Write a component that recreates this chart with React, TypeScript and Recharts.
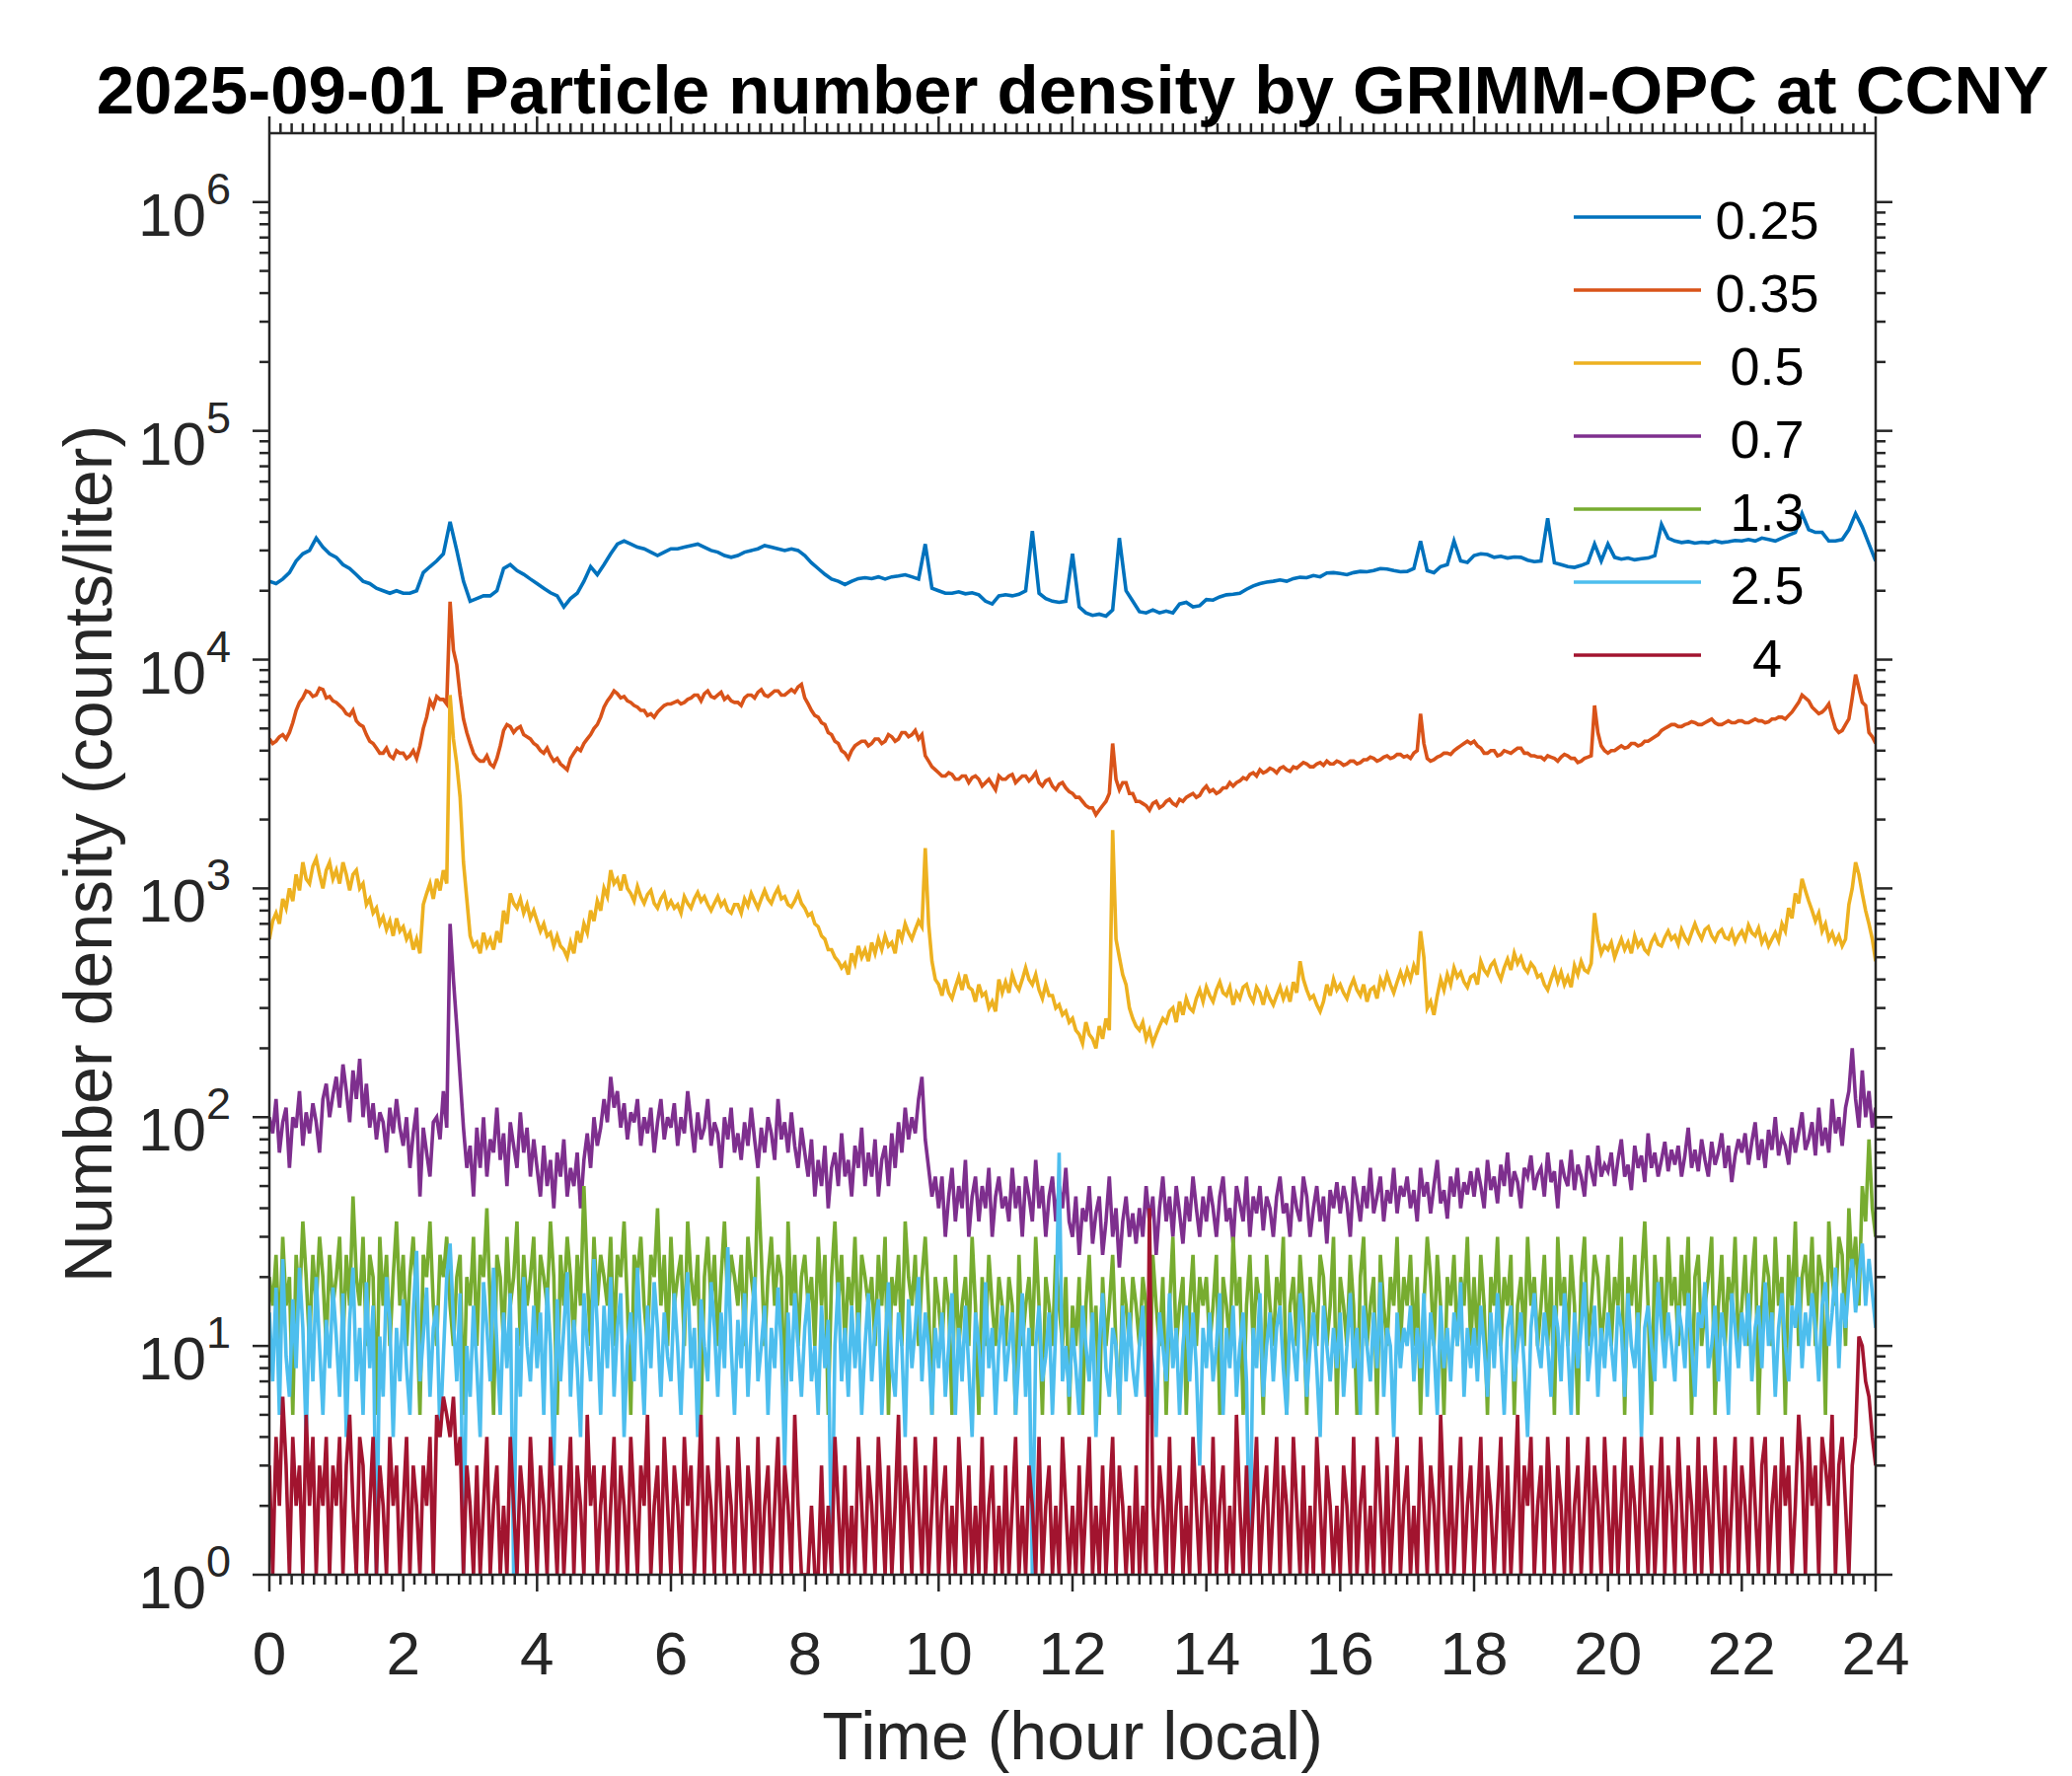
import React from "react";
import { LineChart, Line, XAxis, YAxis, Legend } from "recharts";

const FONT = '"Liberation Sans", Arial, Helvetica, sans-serif';
const INK = "#262626";

const CHART_W = 2100;
const CHART_H = 1800;
// plot box in page pixels
const PLOT = { left: 273, right: 1901, top: 135, bottom: 1596 };

const SIZE_LABELS = ["0.25", "0.35", "0.5", "0.7", "1.3", "2.5", "4"];
const SIZE_COLORS = ["#0072BD", "#D95319", "#EDB120", "#7E2F8E", "#77AC30", "#4DBEEE", "#A2142F"];

const HOUR_LABELS = [0, 2, 4, 6, 8, 10, 12, 14, 16, 18, 20, 22, 24];
const DECADES = [0, 1, 2, 3, 4, 5, 6];
const Y_MAX = 2000000;

// counts/liter, 6 min samples (0..24 h)
const N_025 = [
  22000, 21500, 22500, 24000, 27000, 29000, 30000, 34000, 31000, 29000,
  28000, 26000, 25000, 23500, 22000, 21500, 20500, 20000, 19500, 20000,
  19500, 19500, 20000, 24000, 25500, 27000, 29000, 40000, 30000, 22000,
  18000, 18500, 19000, 19000, 20000, 25000, 26000, 24500, 23600, 22500,
  21500, 20500, 19600, 19000, 17000, 18500, 19500, 22000, 25500, 23500,
  26000, 29000, 32000, 33000, 32000, 31000, 30500, 29500, 28500, 29500,
  30500, 30500, 31000, 31500, 32000, 31000, 30000, 29500, 28500, 28000,
  28500, 29500, 30000, 30500, 31500, 31000, 30500, 30000, 30500, 30000,
  28500, 26500, 25000, 23600, 22500, 22000, 21300, 22000, 22600, 22800,
  22600, 23000, 22500, 23000, 23200, 23500, 23000, 22500, 32000, 20500,
  20000, 19500, 19500, 19800, 19400, 19600, 19200, 18000, 17500, 19000,
  19200, 19000, 19300, 20000, 36500, 19500, 18500, 18000, 17800, 18000,
  29000, 17000, 16000, 15600, 15800, 15500, 16500, 34000, 20000, 18000,
  16200, 16000, 16500, 16000, 16300, 16000, 17500, 17800, 17000, 17200,
  18300, 18200, 18800, 19200, 19300, 19500, 20300, 21000, 21500, 21800,
  22000, 22300, 22000, 22600, 22900, 22800, 23300, 23000, 23900, 24000,
  23800, 23500, 24000, 24300, 24200, 24500, 25000, 24900, 24500, 24200,
  24300, 25000, 33000, 24500, 24000, 25500, 26000, 33000, 27000, 26600,
  28500, 29000, 28800, 28000, 28300, 27800, 28100, 28000, 27200, 26800,
  27000, 41500, 26500, 26000, 25500, 25300, 25800, 26500, 32000, 27000,
  32000, 28000, 27500, 27800, 27300, 27600, 27800, 28500, 39000, 34000,
  33000, 32500, 32800, 32300, 32600, 32400, 33000, 32500, 32800, 33200,
  33000, 33500, 33000, 34000, 33500, 33000, 34000, 35000, 36000, 43500,
  37000, 36000, 36000, 33000, 33000, 33500, 37000, 43500, 38000, 32000,
  27000,
];

// counts/liter, 3 min samples (0..24 h)
const N_035 = [
  4500, 4300, 4400, 4600, 4700, 4500, 4800, 5300, 6000, 6500, 6800, 7300, 7200, 6900, 7000, 7500, 7400, 6800, 6900, 6600,
  6500, 6300, 6100, 5800, 5700, 6000, 5400, 5200, 5100, 4700, 4400, 4300, 4100, 3900, 3900, 4100, 3800, 3700, 4000, 3900,
  3900, 3700, 3800, 4000, 3700, 4200, 5000, 5600, 6600, 6200, 6900, 6700, 6700, 6400, 17900, 11000, 9500, 7000, 5500, 4800,
  4300, 3900, 3700, 3600, 3600, 3800, 3500, 3400, 3700, 4200, 4900, 5200, 5100, 4800, 5000, 5100, 4700, 4600, 4500, 4300,
  4200, 4000, 3900, 4100, 3800, 3600, 3700, 3500, 3400, 3300, 3700, 3900, 4100, 4000, 4300, 4500, 4700, 5000, 5200, 5600,
  6200, 6600, 6900, 7300, 7100, 6800, 6900, 6600, 6500, 6300, 6200, 6000, 6000, 5700, 5800, 5600, 5900, 6100, 6300, 6400,
  6400, 6500, 6600, 6400, 6500, 6700, 6800, 7000, 7000, 6600, 7100, 7300, 6900, 6800, 7000, 7200, 6700, 6900, 6600, 6500,
  6500, 6300, 6800, 7000, 7000, 6800, 7200, 7400, 7000, 6900, 7100, 7300, 7300, 7000, 7000, 7200, 7400, 7200, 7600, 7800,
  6800, 6400, 6000, 5700, 5600, 5300, 5200, 4800, 4700, 4400, 4300, 4000, 3900, 3700, 4000, 4200, 4300, 4400, 4400, 4200,
  4300, 4500, 4500, 4300, 4400, 4700, 4600, 4400, 4500, 4800, 4800, 4600, 4700, 4900, 4500, 4700, 3800, 3600, 3400, 3300,
  3200, 3100, 3100, 3200, 3150, 3000, 3000, 3100, 3100, 2900, 3050, 3100, 3000, 2800, 2900, 3000, 2850, 2700, 3100, 3000,
  3000, 3100, 3150, 2900, 3000, 3100, 3100, 2950, 3050, 3200, 2900, 2800, 2950, 3000, 2800, 2700, 2850, 2900, 2750, 2650,
  2600, 2500, 2500, 2400, 2300, 2250, 2250, 2100, 2200, 2300, 2400, 2600, 4300, 3000, 2700, 2900, 2900, 2600, 2600, 2400,
  2400, 2350, 2300, 2200, 2350, 2400, 2250, 2300, 2400, 2450, 2350, 2300, 2450, 2400, 2500, 2550, 2600, 2500, 2550, 2700,
  2800, 2650, 2700, 2600, 2650, 2750, 2750, 2900, 2800, 2900, 2950, 3050, 3000, 3150, 3200, 3100, 3300, 3200, 3250, 3350,
  3300, 3200, 3350, 3400, 3300, 3250, 3400, 3350, 3450, 3550, 3500, 3400, 3400, 3500, 3550, 3450, 3600, 3500, 3500, 3600,
  3550, 3450, 3500, 3600, 3600, 3500, 3550, 3650, 3650, 3750, 3700, 3600, 3650, 3750, 3800, 3700, 3750, 3850, 3850, 3750,
  3800, 3700, 3900, 4000, 5800, 4300, 3700, 3600, 3650, 3750, 3800, 3900, 3900, 3850, 4000, 4100, 4200, 4300, 4400, 4300,
  4400, 4200, 4100, 3900, 3900, 4000, 4000, 3800, 3850, 4000, 3950, 3900, 4000, 4100, 4100, 3900, 3900, 3800, 3800, 3750,
  3750, 3650, 3800, 3750, 3700, 3600, 3750, 3850, 3800, 3700, 3700, 3550, 3600, 3700, 3750, 3800, 6300, 4800, 4200, 4000,
  3900, 4000, 4000, 4100, 4200, 4100, 4150, 4300, 4300, 4200, 4250, 4400, 4400, 4500, 4600, 4700, 4900, 5000, 5100, 5200,
  5200, 5100, 5100, 5200, 5250, 5350, 5300, 5200, 5200, 5300, 5400, 5500, 5300, 5200, 5200, 5300, 5400, 5300, 5300, 5400,
  5400, 5300, 5300, 5400, 5500, 5400, 5400, 5300, 5350, 5500, 5500, 5600, 5600, 5500, 5700, 5900, 6200, 6500, 7000, 6800,
  6600, 6200, 6000, 5800, 5900, 6100, 6400, 5600, 5000, 4800, 4900, 5200, 5500, 6800, 8600, 7500, 6500, 6300, 4800, 4600,
  4300,
];

const N_05 = [
  600, 720, 780, 700, 900, 820, 1000, 880, 1150, 980, 1300, 1100, 1050, 1250, 1350, 1150, 1000, 1200, 1300, 1100,
  1200, 1050, 1300, 1150, 980, 1150, 1200, 1000, 1050, 850, 900, 780, 820, 700, 750, 660, 720, 620, 740, 650,
  680, 600, 640, 540, 600, 520, 850, 950, 1050, 900, 1100, 980, 1200, 1050, 7000, 4500, 3500, 2500, 1300, 900,
  620, 560, 580, 520, 640, 560, 600, 540, 650, 580, 800, 700, 950, 860, 820, 900, 780, 850, 740, 800,
  720, 650, 700, 620, 640, 560, 620, 560, 540, 500, 580, 520, 650, 580, 700, 640, 800, 720, 880, 800,
  1000, 920, 1200, 1050, 1100, 980, 1150, 1000, 950, 880, 1020, 920, 860, 940, 980, 860, 820, 900, 950, 830,
  880, 820, 850, 780, 920, 860, 820, 900, 960, 880, 920, 850, 800, 860, 920, 840, 880, 800, 780, 850,
  850, 780, 900, 840, 950, 880, 820, 900, 980, 900, 860, 940, 1000, 900, 920, 850, 830, 880, 950, 860,
  820, 760, 780, 700, 680, 620, 600, 540, 540, 500, 480, 450, 470, 420, 520, 470, 560, 500, 540, 480,
  580, 520, 600, 540, 620, 560, 580, 520, 660, 600, 700, 640, 600, 660, 720, 680, 1500, 700, 480, 400,
  380, 340, 400, 350, 330, 370, 410, 360, 420, 370, 360, 320, 380, 340, 350, 300, 320, 290, 400, 350,
  390, 350, 420, 380, 360, 400, 450, 400, 380, 420, 360, 330, 380, 340, 340, 300, 310, 280, 290, 260,
  270, 240, 230, 210, 260, 230, 220, 200, 250, 220, 270, 240, 1800, 600, 500, 420, 380, 300, 270, 250,
  240, 260, 220, 240, 210, 230, 250, 270, 260, 290, 300, 260, 320, 280, 330, 300, 290, 330, 360, 320,
  370, 340, 320, 360, 390, 350, 340, 370, 310, 350, 330, 370, 380, 340, 320, 370, 350, 310, 360, 330,
  310, 340, 370, 330, 360, 320, 390, 350, 480, 400, 360, 330, 340, 310, 290, 320, 380, 340, 400, 360,
  380, 350, 330, 370, 400, 360, 340, 380, 320, 360, 370, 330, 400, 370, 420, 380, 350, 390, 430, 390,
  440, 400, 460, 420, 650, 500, 300, 320, 280, 340, 400, 360, 420, 380, 450, 410, 430, 390, 370, 410,
  420, 380, 480, 440, 420, 460, 480, 430, 400, 450, 490, 440, 520, 470, 500, 450, 430, 470, 450, 410,
  420, 380, 360, 400, 440, 390, 430, 380, 410, 370, 460, 420, 480, 440, 430, 470, 780, 600, 520, 560,
  540, 580, 500, 550, 600, 540, 580, 520, 620, 560, 590, 540, 520, 580, 620, 570, 560, 610, 650, 600,
  620, 570, 660, 610, 580, 640, 700, 640, 600, 660, 680, 620, 590, 640, 660, 610, 600, 650, 580, 620,
  650, 600, 690, 640, 620, 670, 580, 620, 560, 600, 640, 590, 700, 650, 820, 740, 950, 860, 1100, 980,
  880, 800, 720, 780, 650, 700, 600, 640, 580, 620, 560, 600, 850, 1000, 1300, 1150, 950, 800, 700, 600,
  480,
];

const N_07 = [
  100, 85, 120, 70, 95, 110, 60, 100, 90, 130, 75, 105, 85, 115, 95, 70, 120, 140, 100, 125,
  150, 110, 170, 130, 95, 160, 120, 180, 100, 140, 90, 115, 80, 105, 95, 70, 110, 85, 120, 90,
  75, 100, 60, 85, 110, 45, 90, 70, 55, 95, 100, 80, 130, 90, 700, 400, 250, 150, 90, 60,
  75, 45, 90, 60, 100, 55, 80, 70, 110, 65, 85, 50, 95, 75, 60, 105, 70, 90, 55, 80,
  60, 45, 75, 50, 65, 40, 70, 55, 80, 45, 60, 50, 70, 40, 65, 85, 60, 100, 75, 90,
  120, 95, 150, 110, 130, 90, 115, 80, 105, 95, 120, 75, 100, 85, 110, 70, 95, 120, 80, 100,
  90, 115, 75, 100, 85, 130, 95, 70, 105, 80, 90, 120, 75, 95, 85, 60, 100, 80, 110, 70,
  85, 65, 95, 75, 110, 80, 60, 90, 70, 100, 85, 65, 120, 80, 95, 70, 105, 75, 60, 90,
  70, 55, 80, 45, 65, 50, 75, 40, 60, 70, 50, 85, 55, 65, 45, 75, 60, 90, 50, 70,
  55, 80, 45, 65, 75, 50, 85, 60, 95, 70, 110, 80, 100, 85, 120, 150, 80, 60, 45, 55,
  40, 55, 30, 45, 60, 35, 50, 40, 65, 30, 45, 55, 35, 50, 40, 60, 30, 45, 55, 40,
  45, 35, 60, 40, 50, 30, 55, 45, 35, 65, 40, 50, 30, 45, 55, 35, 50, 40, 60, 35,
  30, 45, 25, 40, 35, 50, 28, 38, 45, 25, 35, 55, 30, 40, 22, 35, 45, 30, 38, 28,
  40, 30, 50, 35, 45, 25, 40, 55, 35, 45, 30, 50, 38, 28, 45, 35, 55, 40, 30, 45,
  35, 50, 40, 30, 45, 55, 35, 40, 28, 50, 42, 35, 55, 30, 45, 38, 50, 32, 45, 40,
  30, 45, 55, 38, 42, 30, 50, 40, 35, 55, 45, 30, 40, 50, 35, 45, 28, 48, 40, 52,
  38, 50, 42, 30, 55, 45, 35, 50, 40, 60, 38, 45, 55, 35, 48, 42, 60, 38, 50, 45,
  55, 40, 48, 35, 60, 45, 52, 38, 50, 65, 42, 48, 36, 55, 45, 60, 40, 52, 46, 58,
  45, 60, 50, 40, 65, 48, 55, 42, 62, 50, 70, 45, 58, 52, 40, 60, 55, 68, 48, 56,
  60, 45, 70, 52, 58, 40, 65, 55, 50, 72, 48, 62, 55, 45, 68, 58, 50, 75, 55, 62,
  58, 70, 50, 65, 80, 55, 62, 48, 75, 60, 68, 52, 85, 60, 70, 55, 65, 78, 58, 72,
  62, 75, 55, 68, 90, 60, 72, 58, 80, 65, 55, 78, 62, 70, 85, 60, 75, 52, 68, 80,
  70, 85, 62, 78, 95, 65, 80, 60, 88, 72, 100, 68, 82, 75, 62, 90, 70, 85, 105, 72,
  80, 95, 68, 110, 75, 90, 70, 120, 85, 100, 75, 110, 130, 200, 120, 90, 160, 100, 130, 90,
  110,
];

const N_13 = [
  20, 15, 25, 10, 30, 15, 20, 5, 25, 15, 35, 20, 10, 25, 15, 30, 20, 10, 25, 15,
  20, 30, 10, 25, 15, 45, 20, 15, 30, 10, 25, 20, 5, 30, 15, 25, 10, 20, 35, 15,
  25, 10, 20, 30, 15, 5, 25, 20, 35, 15, 10, 25, 20, 30, 15, 10, 20, 25, 5, 20,
  15, 30, 10, 25, 20, 40, 15, 5, 25, 20, 10, 30, 15, 20, 35, 10, 25, 15, 20, 30,
  10, 25, 20, 15, 35, 20, 5, 25, 15, 30, 20, 10, 25, 15, 50, 20, 10, 30, 15, 25,
  20, 15, 30, 10, 25, 20, 35, 15, 5, 25, 20, 30, 15, 10, 25, 20, 40, 15, 25, 10,
  30, 15, 20, 25, 10, 35, 20, 15, 25, 5, 20, 30, 15, 25, 10, 20, 35, 15, 25, 20,
  15, 25, 10, 30, 20, 15, 55, 25, 10, 20, 30, 15, 25, 20, 5, 35, 15, 25, 10, 20,
  25, 15, 20, 10, 30, 15, 25, 5, 20, 35, 15, 25, 10, 20, 15, 30, 10, 25, 20, 15,
  20, 10, 25, 15, 30, 5, 20, 15, 25, 10, 35, 20, 15, 25, 10, 20, 30, 15, 5, 20,
  15, 10, 20, 15, 5, 25, 10, 15, 20, 10, 30, 15, 5, 20, 10, 25, 15, 10, 20, 15,
  10, 20, 15, 5, 25, 10, 15, 20, 10, 30, 15, 5, 20, 15, 10, 25, 15, 10, 20, 5,
  15, 10, 20, 5, 15, 25, 10, 15, 5, 20, 10, 15, 25, 10, 5, 20, 15, 10, 20, 15,
  10, 20, 15, 5, 25, 15, 10, 20, 5, 15, 30, 10, 15, 20, 5, 15, 25, 10, 20, 15,
  20, 10, 15, 25, 5, 20, 15, 10, 30, 15, 20, 5, 15, 25, 10, 20, 15, 5, 25, 15,
  10, 20, 15, 30, 5, 15, 20, 10, 25, 15, 5, 20, 15, 10, 25, 20, 10, 15, 30, 5,
  20, 15, 10, 25, 15, 5, 20, 30, 10, 15, 20, 5, 25, 15, 10, 20, 15, 30, 10, 20,
  15, 25, 10, 20, 5, 15, 30, 20, 10, 25, 15, 5, 20, 15, 25, 10, 20, 15, 30, 10,
  20, 10, 25, 15, 5, 20, 15, 30, 10, 20, 15, 25, 5, 15, 20, 10, 30, 15, 20, 10,
  15, 25, 10, 20, 5, 30, 15, 20, 10, 25, 15, 5, 20, 30, 10, 15, 25, 20, 10, 15,
  25, 10, 20, 15, 30, 5, 20, 15, 25, 10, 20, 35, 15, 5, 25, 15, 20, 10, 30, 15,
  20, 10, 25, 15, 30, 5, 20, 25, 10, 15, 20, 30, 5, 15, 25, 10, 20, 15, 30, 10,
  15, 25, 10, 20, 30, 5, 15, 25, 20, 10, 30, 15, 20, 5, 25, 15, 35, 10, 20, 25,
  15, 30, 10, 25, 20, 5, 35, 20, 15, 30, 25, 10, 40, 20, 30, 15, 50, 35, 80, 40,
  30,
];

const N_25 = [
  14, 7, 18, 5, 24, 9, 6, 16, 8, 22, 12, 4, 15, 7, 20, 10, 5, 13, 8, 18,
  11, 6, 17, 4, 13, 22, 7, 12, 5, 19, 8, 15, 1, 11, 6, 20, 13, 4, 12, 7,
  16, 8, 5, 14, 26, 7, 11, 18, 6, 12, 15, 4, 9, 20, 28, 13, 7, 17, 1, 10,
  6, 15, 8, 4, 19, 12, 7, 22, 10, 5, 14, 8, 17, 1, 12, 6, 20, 10, 7, 15,
  8, 14, 5, 18, 10, 3, 16, 7, 12, 21, 6, 13, 8, 4, 17, 10, 7, 24, 12, 5,
  15, 8, 20, 6, 12, 17, 4, 10, 14, 7, 22, 10, 5, 15, 8, 19, 12, 6, 14, 9,
  7, 17, 10, 5, 13, 21, 8, 12, 4, 16, 10, 7, 19, 12, 6, 14, 8, 27, 10, 5,
  13, 8, 17, 6, 12, 20, 7, 10, 15, 5, 12, 8, 18, 10, 3, 14, 7, 17, 10, 6,
  12, 17, 7, 10, 5, 15, 8, 13, 1, 10, 19, 7, 12, 6, 15, 8, 14, 5, 10, 17,
  7, 12, 16, 5, 10, 19, 8, 6, 14, 10, 4, 16, 8, 12, 20, 7, 14, 10, 5, 12,
  8, 14, 6, 10, 17, 5, 12, 7, 15, 8, 4, 14, 10, 6, 19, 8, 12, 5, 10, 15,
  7, 10, 14, 5, 9, 17, 6, 12, 1, 10, 15, 7, 9, 14, 5, 12, 70, 7, 10, 6,
  12, 8, 5, 15, 10, 7, 14, 4, 10, 17, 8, 6, 12, 10, 5, 15, 7, 14, 8, 6,
  10, 15, 6, 12, 8, 4, 14, 10, 7, 17, 8, 12, 5, 10, 15, 7, 14, 8, 3, 12,
  8, 14, 7, 10, 17, 5, 12, 8, 15, 6, 10, 14, 7, 1, 12, 8, 17, 6, 10, 14,
  7, 12, 15, 8, 5, 14, 10, 7, 17, 12, 6, 10, 14, 8, 4, 15, 10, 7, 12, 8,
  14, 6, 10, 17, 8, 12, 5, 15, 10, 7, 14, 8, 19, 6, 12, 10, 4, 14, 8, 12,
  10, 15, 7, 12, 8, 17, 6, 14, 10, 5, 15, 8, 12, 7, 14, 10, 19, 6, 12, 8,
  12, 7, 15, 10, 6, 14, 8, 17, 10, 5, 12, 15, 7, 10, 14, 8, 4, 12, 17, 10,
  8, 14, 10, 6, 15, 12, 7, 17, 10, 5, 14, 8, 12, 19, 7, 10, 15, 6, 12, 8,
  14, 10, 7, 15, 12, 6, 17, 10, 8, 14, 4, 12, 15, 10, 7, 19, 12, 8, 14, 10,
  7, 15, 12, 8, 17, 10, 6, 14, 12, 19, 8, 10, 15, 7, 14, 10, 5, 17, 12, 8,
  14, 10, 17, 7, 12, 15, 8, 19, 10, 14, 6, 12, 17, 10, 7, 15, 12, 20, 8, 14,
  10, 17, 12, 7, 15, 19, 10, 14, 22, 8, 17, 12, 19, 24, 14, 20, 28, 15, 24, 17,
  12,
];

const N_4 = [
  3, 1, 4, 2, 6, 3, 1, 4, 2, 3, 1, 5, 2, 4, 1, 3, 2, 4, 1, 3,
  2, 4, 1, 3, 5, 2, 1, 4, 3, 1, 2, 4, 1, 3, 2, 1, 4, 2, 3, 1,
  2, 4, 1, 3, 2, 1, 3, 2, 4, 1, 5, 4, 6, 5, 4, 6, 3, 4, 1, 3,
  2, 1, 3, 1, 2, 4, 1, 2, 3, 1, 2, 1, 4, 2, 1, 3, 2, 1, 4, 2,
  1, 3, 2, 1, 4, 2, 1, 3, 1, 2, 4, 1, 3, 2, 1, 5, 2, 3, 1, 2,
  3, 1, 2, 4, 1, 3, 2, 1, 4, 2, 1, 3, 2, 5, 1, 2, 3, 1, 4, 2,
  1, 3, 2, 1, 4, 2, 3, 1, 2, 5, 1, 3, 2, 1, 4, 2, 1, 3, 2, 1,
  4, 2, 1, 3, 2, 1, 4, 1, 2, 3, 1, 2, 4, 1, 3, 2, 1, 5, 2, 1,
  1, 1, 2, 1, 1, 3, 1, 2, 1, 4, 2, 1, 3, 1, 2, 1, 4, 2, 1, 3,
  2, 1, 4, 2, 1, 3, 1, 2, 5, 1, 3, 2, 1, 4, 2, 1, 3, 1, 2, 4,
  1, 2, 3, 1, 2, 1, 4, 2, 1, 3, 1, 2, 1, 4, 1, 2, 3, 1, 2, 1,
  3, 1, 2, 4, 1, 2, 1, 3, 2, 1, 4, 1, 2, 3, 1, 2, 1, 4, 2, 1,
  2, 1, 3, 1, 2, 4, 1, 2, 1, 3, 1, 2, 4, 1, 3, 2, 1, 2, 1, 3,
  1, 2, 1, 40, 2, 1, 3, 2, 1, 4, 1, 2, 3, 1, 2, 1, 4, 2, 1, 3,
  2, 1, 4, 1, 2, 3, 1, 2, 1, 5, 2, 1, 3, 1, 2, 4, 1, 2, 3, 1,
  2, 4, 1, 3, 2, 1, 4, 2, 1, 3, 1, 2, 1, 4, 2, 1, 3, 2, 1, 2,
  1, 3, 2, 1, 4, 1, 2, 3, 1, 2, 1, 4, 2, 1, 3, 1, 2, 4, 1, 2,
  3, 1, 2, 1, 4, 2, 1, 3, 2, 1, 5, 2, 1, 3, 1, 2, 4, 1, 2, 3,
  1, 2, 4, 1, 3, 2, 1, 2, 4, 1, 3, 1, 2, 5, 1, 3, 2, 4, 1, 2,
  3, 1, 4, 2, 1, 3, 2, 1, 4, 1, 2, 3, 1, 2, 4, 1, 3, 2, 1, 4,
  2, 1, 3, 1, 2, 4, 1, 3, 2, 1, 4, 2, 1, 3, 1, 2, 4, 1, 3, 2,
  1, 4, 2, 1, 3, 2, 1, 4, 1, 3, 2, 1, 4, 2, 1, 3, 1, 2, 4, 1,
  3, 2, 1, 4, 2, 1, 3, 4, 1, 2, 3, 1, 4, 2, 3, 1, 2, 5, 3, 1,
  4, 2, 3, 1, 4, 3, 2, 5, 1, 3, 4, 2, 1, 3, 4, 11, 10, 7, 6, 4,
  3,
];

const SERIES_VALUES = [N_025, N_035, N_05, N_07, N_13, N_25, N_4];

// each record spans 0..24 h at a fixed sampling step
const toPoints = (values: number[]) => {
  const step = 24 / (values.length - 1);
  return values.map((v, i) => ({ h: Math.round(i * step * 1000) / 1000, v }));
};

const SERIES = SIZE_LABELS.map((label, i) => ({
  label,
  color: SIZE_COLORS[i],
  points: toPoints(SERIES_VALUES[i]),
}));

// 10-minute minor ticks on the time axis
const X_TICKS: number[] = [];
for (let i = 0; i <= 144; i++) X_TICKS.push(i / 6);

// log minor ticks 1..9 per decade
const Y_TICKS: number[] = [];
for (const e of DECADES) {
  for (let m = 1; m <= 9; m++) {
    const v = m * Math.pow(10, e);
    if (v < Y_MAX) Y_TICKS.push(v);
  }
}

const MAJOR_LEN = 17;
const MINOR_LEN = 10;
const TICK_W = 2.5;
const LINE_W = 3.6;

const isHourMajor = (v: number) => HOUR_LABELS.some((h) => Math.abs(h - v) < 1e-6);
const decadeOf = (v: number) => DECADES.find((e) => Math.abs(Math.pow(10, e) - v) < 1e-6 * v);

function BottomTick(props: any) {
  const { x, y, payload } = props;
  const major = isHourMajor(payload.value);
  return (
    <g>
      <line x1={x} x2={x} y1={y} y2={y + (major ? MAJOR_LEN : MINOR_LEN)} stroke={INK} strokeWidth={TICK_W} />
      {major && (
        <text x={x} y={y + 101} textAnchor="middle" fontSize={62} fill={INK} fontFamily={FONT}>
          {Math.round(payload.value)}
        </text>
      )}
    </g>
  );
}

function TopTick(props: any) {
  const { x, y, payload } = props;
  const major = isHourMajor(payload.value);
  return <line x1={x} x2={x} y1={y} y2={y - (major ? MAJOR_LEN : MINOR_LEN)} stroke={INK} strokeWidth={TICK_W} />;
}

function LeftTick(props: any) {
  const { x, y, payload } = props;
  const e = decadeOf(payload.value);
  const major = e !== undefined;
  return (
    <g>
      <line x1={x - (major ? MAJOR_LEN : MINOR_LEN)} x2={x} y1={y} y2={y} stroke={INK} strokeWidth={TICK_W} />
      {major && (
        <text x={x - 39} y={y + 34} textAnchor="end" fontSize={62} fill={INK} fontFamily={FONT}>
          10
          <tspan fontSize={45} dy={-32}>
            {e}
          </tspan>
        </text>
      )}
    </g>
  );
}

function RightTick(props: any) {
  const { x, y, payload } = props;
  const major = decadeOf(payload.value) !== undefined;
  return <line x1={x} x2={x + (major ? MAJOR_LEN : MINOR_LEN)} y1={y} y2={y} stroke={INK} strokeWidth={TICK_W} />;
}

function SizeLegend(props: any) {
  const payload = (props.payload || []).slice().sort(
    (a: any, b: any) => SIZE_LABELS.indexOf(a.value) - SIZE_LABELS.indexOf(b.value)
  );
  return (
    <svg width={330} height={540} style={{ overflow: "visible", display: "block" }}>
      {payload.map((item: any, i: number) => {
        const y = 40 + i * 74;
        return (
          <g key={item.value}>
            <line x1={15} x2={144} y1={y} y2={y} stroke={item.color} strokeWidth={3.4} />
            <text x={211} y={y + 22} textAnchor="middle" fontSize={54} fill="#000" fontFamily={FONT}>
              {item.value}
            </text>
          </g>
        );
      })}
    </svg>
  );
}

const axisLine = { stroke: INK, strokeWidth: TICK_W };

export default function App() {
  const midX = (PLOT.left + PLOT.right) / 2;
  const midY = (PLOT.top + PLOT.bottom) / 2;
  return (
    <div style={{ position: "relative", width: CHART_W, height: CHART_H, background: "#fff" }}>
      <style>{"body{margin:0;background:#fff}"}</style>
      <LineChart
        width={CHART_W}
        height={CHART_H}
        margin={{ top: PLOT.top - 1, right: CHART_W - PLOT.right - 1, bottom: 0, left: 0 }}
      >
        <XAxis
          xAxisId="b"
          type="number"
          dataKey="h"
          domain={[0, 24]}
          allowDataOverflow
          ticks={X_TICKS}
          interval={0}
          height={CHART_H - PLOT.bottom}
          tickLine={false}
          tickSize={0}
          tickMargin={0}
          tick={BottomTick}
          axisLine={axisLine}
        />
        <XAxis
          xAxisId="t"
          orientation="top"
          type="number"
          dataKey="h"
          domain={[0, 24]}
          allowDataOverflow
          ticks={X_TICKS}
          interval={0}
          height={1}
          tickLine={false}
          tickSize={0}
          tickMargin={0}
          tick={TopTick}
          axisLine={axisLine}
        />
        <YAxis
          yAxisId="l"
          type="number"
          scale="log"
          domain={[1, Y_MAX]}
          allowDataOverflow
          ticks={Y_TICKS}
          interval={0}
          width={PLOT.left}
          tickLine={false}
          tickSize={0}
          tickMargin={0}
          tick={LeftTick}
          axisLine={axisLine}
        />
        <YAxis
          yAxisId="r"
          orientation="right"
          type="number"
          scale="log"
          domain={[1, Y_MAX]}
          allowDataOverflow
          ticks={Y_TICKS}
          interval={0}
          width={1}
          tickLine={false}
          tickSize={0}
          tickMargin={0}
          tick={RightTick}
          axisLine={axisLine}
        />
        <Legend
          layout="vertical"
          align="center"
          verticalAlign="middle"
          content={SizeLegend}
          wrapperStyle={{ left: 1580, top: 180, width: 330, height: 540 }}
        />
        {SERIES.map((s) => (
          <Line
            key={s.label}
            xAxisId="b"
            yAxisId="l"
            data={s.points}
            dataKey="v"
            name={s.label}
            type="linear"
            stroke={s.color}
            strokeWidth={LINE_W}
            dot={false}
            activeDot={false}
            isAnimationActive={false}
          />
        ))}
      </LineChart>
      <svg
        width={CHART_W}
        height={CHART_H}
        style={{ position: "absolute", left: 0, top: 0, pointerEvents: "none" }}
      >
        <text x={midX} y={115} textAnchor="middle" fontSize={69} fontWeight="bold" fill="#000" fontFamily={FONT}>
          2025-09-01 Particle number density by GRIMM-OPC at CCNY
        </text>
        <text x={midX} y={1783} textAnchor="middle" fontSize={68} fill={INK} fontFamily={FONT}>
          Time (hour local)
        </text>
        <text
          x={113}
          y={midY}
          transform={`rotate(-90 113 ${midY})`}
          textAnchor="middle"
          fontSize={68}
          fill={INK}
          fontFamily={FONT}
        >
          Number density (counts/liter)
        </text>
      </svg>
    </div>
  );
}
